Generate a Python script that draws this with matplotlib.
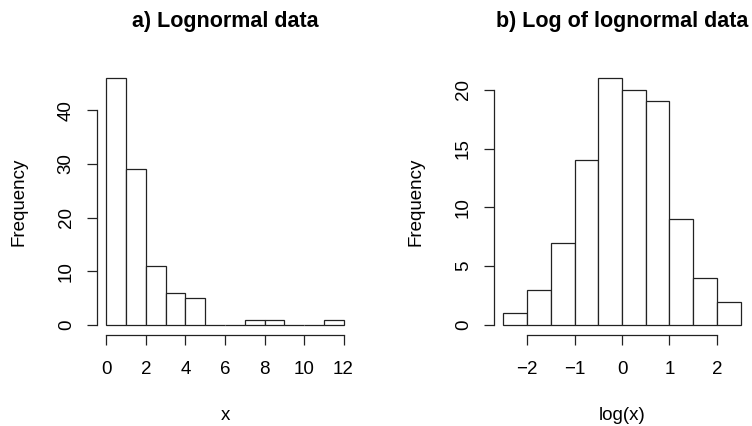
import matplotlib
matplotlib.use("Agg")
import matplotlib.pyplot as plt
import numpy as np

plt.rcParams['font.family'] = ['Liberation Sans', 'DejaVu Sans']

# Panel a) lognormal data histogram
a_edges = [0, 1, 2, 3, 4, 5, 6, 7, 8, 9, 10, 11, 12]
a_counts = [46, 29, 11, 6, 5, 0, 0, 1, 1, 0, 0, 1]
a_xticks = [0, 2, 4, 6, 8, 10, 12]
a_yticks = [0, 10, 20, 30, 40]

# Panel b) log of lognormal data histogram
b_edges = [-2.5, -2.0, -1.5, -1.0, -0.5, 0.0, 0.5, 1.0, 1.5, 2.0, 2.5]
b_counts = [1, 3, 7, 14, 21, 20, 19, 9, 4, 2]
b_xticks = [-2, -1, 0, 1, 2]
b_yticks = [0, 5, 10, 15, 20]

W, H = 752, 426
fig = plt.figure(figsize=(W / 100, H / 100), dpi=100)

FS = 13.5


def make_ax(l, r, t, b):
    return fig.add_axes([l / W, 1 - b / H, (r - l) / W, (b - t) / H])


def draw(ax, box, edges, counts, xticks, yticks, title, xlabel):
    l, r, t, b = box
    edges = np.array(edges, dtype=float)
    widths = np.diff(edges)
    ax.bar(edges[:-1], counts, width=widths, align='edge', facecolor='white',
           edgecolor='#222222', linewidth=0.9)
    xr = edges[-1] - edges[0]
    ax.set_xlim(edges[0] - 0.04 * xr, edges[-1] + 0.04 * xr)
    ym = max(counts)
    ax.set_ylim(-0.04 * ym, ym * 1.04)
    for s in ['top', 'right']:
        ax.spines[s].set_visible(False)
    ax.spines['left'].set_bounds(yticks[0], yticks[-1])
    ax.spines['bottom'].set_bounds(xticks[0], xticks[-1])
    for s in ['left', 'bottom']:
        ax.spines[s].set_linewidth(0.9)
        ax.spines[s].set_color('#222222')
    ax.set_xticks(xticks)
    ax.set_xticklabels([("\u2212" + str(abs(v))) if v < 0 else str(v) for v in xticks])
    ax.set_yticks(yticks)
    ax.set_yticklabels([str(v) for v in yticks], rotation=90, va='center')
    ax.tick_params(axis='both', length=7, width=0.9, color='#222222',
                   labelsize=FS)
    ax.tick_params(axis='x', pad=12)
    ax.tick_params(axis='y', pad=9)
    cx = (l + r) / 2 / W
    fig.text(cx, 1 - 22 / H, title, fontsize=15.5, fontweight='bold',
             ha='center', va='center')
    fig.text(cx, 1 - 415 / H, xlabel, fontsize=FS, ha='center', va='center')
    fig.text((l - 78) / W, 1 - (t + b) / 2 / H, 'Frequency', fontsize=FS,
             rotation=90, ha='center', va='center')


box1 = (97, 353, 68, 335)
ax1 = make_ax(*box1)
draw(ax1, box1, a_edges, a_counts, a_xticks, a_yticks, 'a) Lognormal data', 'x')
box2 = (494, 750, 68, 335)
ax2 = make_ax(*box2)
draw(ax2, box2, b_edges, b_counts, b_xticks, b_yticks, 'b) Log of lognormal data', 'log(x)')

fig.savefig('out.png', dpi=100)
